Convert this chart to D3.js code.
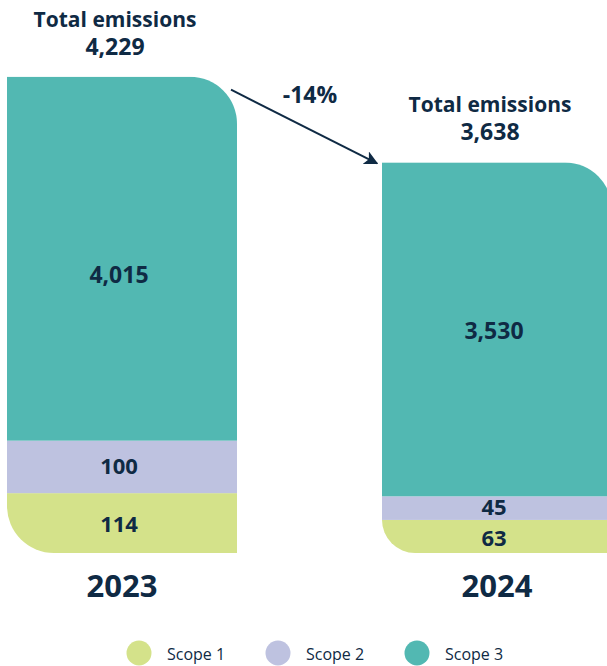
<!DOCTYPE html>
<html>
<head>
<meta charset="utf-8">
<script src="https://cdn.jsdelivr.net/npm/d3@7"></script>
<style>
  html, body { margin: 0; padding: 0; background: #fff; }
  svg { display: block; font-family: "Open Sans", "Noto Sans", sans-serif; }
</style>
</head>
<body>
<div id="chartContainer"></div>
<script>
const years = ['2023', '2024'];
const scope1 = [114, 63];
const scope2 = [100, 45];
const scope3 = [4015, 3530];
const totals = ['4,229', '3,638'];
const changeLabel = '-14%';
const scopeNames = ['Scope 1', 'Scope 2', 'Scope 3'];

const colors = { 'Scope 1': '#d4e28a', 'Scope 2': '#bec2e0', 'Scope 3': '#52b8b2' };
const ink = '#0f2a44';

const width = 607;
const height = 666;
const baseY = 553;

const svg = d3.select('#chartContainer')
    .append('svg')
    .attr('width', width)
    .attr('height', height);

const x = d3.scaleBand()
    .domain(years)
    .range([7, 612])
    .paddingInner(145 / 375)
    .paddingOuter(0);

// scope 1 & 2 are drawn on a stretched scale, scope 3 on a compressed one
const ySmall = d3.scaleLinear().domain([0, 100]).range([0, 52.5]);
const yBig = d3.scalePow().exponent(0.67).domain([0, 4015]).range([0, 364]);

const fmt = d3.format(',');

const bars = years.map((yr, i) => {
    const h1 = ySmall(scope1[i]);
    const h2 = ySmall(scope2[i]);
    const h3 = yBig(scope3[i]);
    return {
        year: yr,
        x0: x(yr),
        x1: x(yr) + x.bandwidth(),
        segs: [
            { name: 'Scope 1', value: scope1[i], y0: baseY - h1, y1: baseY },
            { name: 'Scope 2', value: scope2[i], y0: baseY - h1 - h2, y1: baseY - h1 },
            { name: 'Scope 3', value: scope3[i], y0: baseY - h1 - h2 - h3, y1: baseY - h1 - h2 }
        ],
        top: baseY - h1 - h2 - h3,
        rBottom: Math.min(47, h1)
    };
});

const defs = svg.append('defs');

bars.forEach((b, i) => {
    const rt = 47;
    const rb = b.rBottom;
    const p = d3.path();
    p.moveTo(b.x0, b.top);
    p.lineTo(b.x1 - rt, b.top);
    p.arcTo(b.x1, b.top, b.x1, b.top + rt, rt);
    p.lineTo(b.x1, baseY);
    p.lineTo(b.x0 + rb, baseY);
    p.arcTo(b.x0, baseY, b.x0, baseY - rb, rb);
    p.closePath();
    defs.append('clipPath')
        .attr('id', 'clip' + i)
        .append('path')
        .attr('d', p.toString());
});

const barG = svg.selectAll('g.bar')
    .data(bars)
    .enter()
    .append('g')
    .attr('class', 'bar');

barG.append('g')
    .attr('clip-path', (d, i) => `url(#clip${i})`)
    .selectAll('rect')
    .data(d => d.segs.map(s => Object.assign({ x0: d.x0 }, s)))
    .enter()
    .append('rect')
    .attr('x', d => d.x0)
    .attr('y', d => d.y0)
    .attr('width', x.bandwidth())
    .attr('height', d => d.y1 - d.y0)
    .attr('fill', d => colors[d.name]);

// segment value labels (the big scope 3 label sits a fixed distance above its base)
const labelY = d => {
    if (d.name === 'Scope 3') return d.y1 - 166;
    const mid = (d.y0 + d.y1) / 2;
    return d.name === 'Scope 2' ? mid - 1 : mid + 1.5;
};

barG.selectAll('text.val')
    .data(d => d.segs.map(s => Object.assign({ cx: d.x0 + x.bandwidth() / 2 }, s)))
    .enter()
    .append('text')
    .attr('class', 'val')
    .attr('x', d => d.cx - 3)
    .attr('y', labelY)
    .attr('dy', '0.36em')
    .attr('text-anchor', 'middle')
    .attr('font-size', d => d.name === 'Scope 3' ? 23 : 22)
    .attr('font-weight', 700)
    .attr('fill', ink)
    .text(d => fmt(d.value));

// total labels
barG.append('text')
    .attr('x', d => d.x0 + x.bandwidth() / 2 - 7)
    .attr('y', d => d.top - 50)
    .attr('text-anchor', 'middle')
    .attr('font-size', 21)
    .attr('font-weight', 700)
    .attr('fill', ink)
    .text('Total emissions');

barG.append('text')
    .attr('x', d => d.x0 + x.bandwidth() / 2 - 7)
    .attr('y', d => d.top - 22)
    .attr('text-anchor', 'middle')
    .attr('font-size', 23)
    .attr('font-weight', 700)
    .attr('fill', ink)
    .text((d, i) => totals[i]);

// year labels
barG.append('text')
    .attr('x', d => d.x0 + x.bandwidth() / 2)
    .attr('y', 597)
    .attr('text-anchor', 'middle')
    .attr('font-size', 31)
    .attr('font-weight', 700)
    .attr('fill', ink)
    .text(d => d.year);

// change arrow
defs.append('marker')
    .attr('id', 'arrowhead')
    .attr('viewBox', '0 0 10 10')
    .attr('refX', 9)
    .attr('refY', 5)
    .attr('markerWidth', 7)
    .attr('markerHeight', 7)
    .attr('markerUnits', 'strokeWidth')
    .attr('orient', 'auto')
    .append('path')
    .attr('d', 'M0,0L10,5L0,10L2.5,5Z')
    .attr('fill', ink);

const a0 = [bars[0].x1 - 6, bars[0].top + 13];
const a1 = [bars[1].x0 - 5, bars[1].top + 1];

svg.append('line')
    .attr('x1', a0[0])
    .attr('y1', a0[1])
    .attr('x2', a1[0])
    .attr('y2', a1[1])
    .attr('stroke', ink)
    .attr('stroke-width', 2)
    .attr('marker-end', 'url(#arrowhead)');

svg.append('text')
    .attr('x', 310)
    .attr('y', 103)
    .attr('text-anchor', 'middle')
    .attr('font-size', 23)
    .attr('font-weight', 700)
    .attr('fill', ink)
    .text(changeLabel);

// legend
const legendX = d3.scalePoint()
    .domain(scopeNames)
    .range([139, 417]);

const legend = svg.selectAll('g.legend')
    .data(scopeNames)
    .enter()
    .append('g')
    .attr('class', 'legend')
    .attr('transform', d => `translate(${legendX(d)},653)`);

legend.append('circle')
    .attr('r', 12.5)
    .attr('fill', d => colors[d]);

legend.append('text')
    .attr('x', 28)
    .attr('y', 7)
    .attr('font-size', 16)
    .attr('fill', ink)
    .text(d => d);
</script>
</body>
</html>
